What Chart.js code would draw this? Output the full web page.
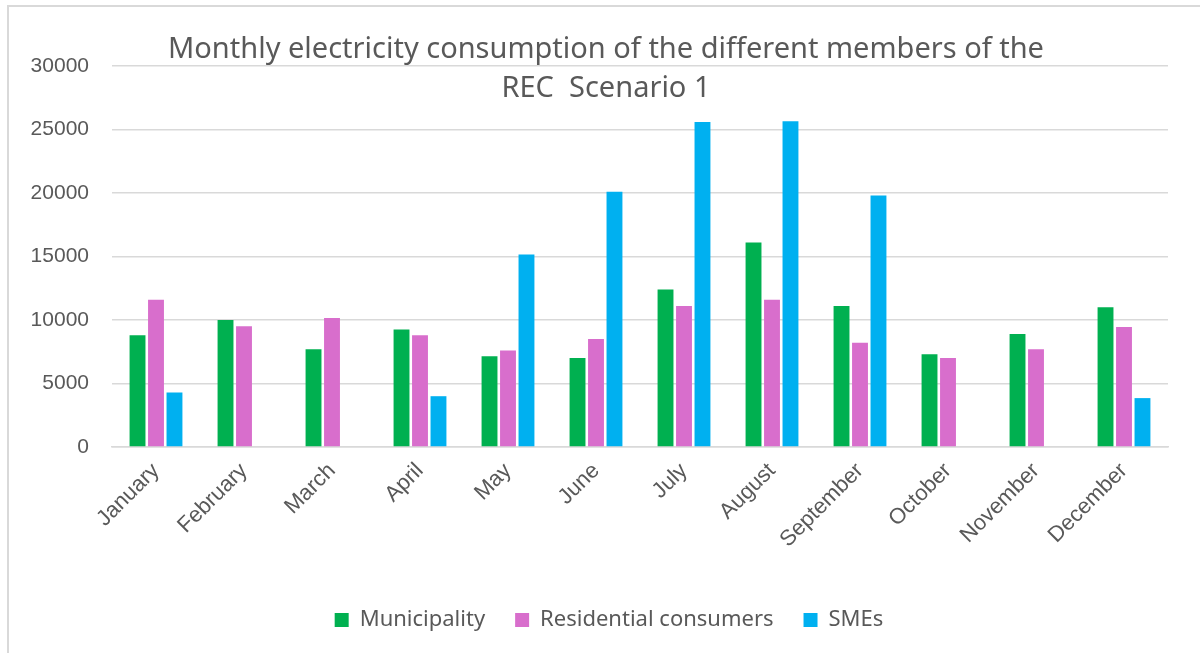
<!DOCTYPE html>
<html>
<head>
<meta charset="utf-8">
<script src="https://cdn.jsdelivr.net/npm/chart.js@4.4.1/dist/chart.umd.min.js"></script>
<style>
  html, body { margin: 0; padding: 0; background: #fff; overflow: hidden; }
  #wrap { position: relative; width: 1200px; height: 653px; overflow: hidden; }
  #frame { position: absolute; left: 7px; top: 5px; width: 1300px; height: 700px; border: 2px solid #d9d9d9; }
  #chart { position: absolute; left: 0; top: 0; }
  #title {
    position: absolute; left: 0; top: 27px; width: 1212px; text-align: center;
    font-family: "Noto Sans", sans-serif; font-size: 29px; line-height: 39px; color: #595959;
  }
</style>
</head>
<body>
<div id="wrap">
  <div id="frame"></div>
  <canvas id="chart" width="1200" height="670"></canvas>
  <div id="title">Monthly electricity consumption of the different members of the<br>REC&nbsp; Scenario 1</div>
</div>
<script>
const months = ['January', 'February', 'March', 'April', 'May', 'June', 'July', 'August', 'September', 'October', 'November', 'December'];
const municipality = [8800, 10000, 7700, 9250, 7150, 7000, 12400, 16100, 11100, 7300, 8900, 11000];
const residential = [11600, 9500, 10150, 8800, 7600, 8500, 11100, 11600, 8200, 7000, 7700, 9450];
const smes = [4300, null, null, 4000, 15150, 20100, 25600, 25650, 19800, null, null, 3850];
const yTicks = [0, 5000, 10000, 15000, 20000, 25000, 30000];

const textColor = '#595959';
const gridColor = '#d9d9d9';

// legend sits a bit right of the plot centre in the original
const legendShift = {
    id: 'legendShift',
    afterLayout(chart) {
        chart.legend.left += 25;
        chart.legend.right += 25;
    }
};

new Chart(document.getElementById('chart'), {
    type: 'bar',
    data: {
        labels: months,
        datasets: [
            { label: 'Municipality', data: municipality, backgroundColor: '#00b050' },
            { label: 'Residential consumers', data: residential, backgroundColor: '#d86ecc' },
            { label: 'SMEs', data: smes, backgroundColor: '#00b0f0' }
        ]
    },
    plugins: [legendShift],
    options: {
        responsive: false,
        animation: false,
        layout: { padding: { left: 0, top: 66, right: 32, bottom: 29 } },
        datasets: { bar: { categoryPercentage: 0.63, barPercentage: 0.86 } },
        plugins: {
            title: { display: false },
            tooltip: { enabled: false },
            legend: {
                position: 'bottom',
                labels: {
                    color: textColor,
                    font: { family: '"Noto Sans", sans-serif', size: 22 },
                    boxWidth: 14,
                    boxHeight: 14,
                    padding: 30
                }
            }
        },
        scales: {
            x: {
                grid: { display: false },
                border: { display: true, color: gridColor, width: 1.5 },
                ticks: {
                    color: textColor,
                    font: { family: '"Liberation Sans", Arial, sans-serif', size: 22 },
                    maxRotation: 45,
                    minRotation: 45,
                    autoSkip: false
                },
                afterFit: s => { s.height = 132; }
            },
            y: {
                min: 0,
                max: 30000,
                afterBuildTicks: s => { s.ticks = yTicks.map(v => ({ value: v })); },
                grid: { color: gridColor, lineWidth: 1.5, drawTicks: false },
                border: { display: false },
                ticks: {
                    color: textColor,
                    font: { family: '"Liberation Sans", Arial, sans-serif', size: 21 },
                    padding: 23,
                    callback: v => String(v)
                },
                afterFit: s => { s.width = 112; }
            }
        }
    }
});
</script>
</body>
</html>
